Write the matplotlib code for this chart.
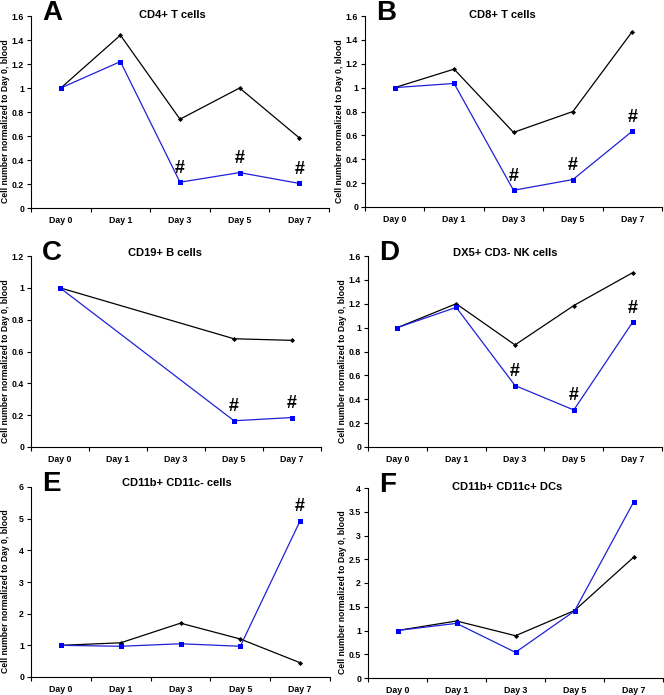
import numpy as np
import matplotlib.pyplot as plt

plt.rcParams['font.family'] = ['Liberation Sans', 'DejaVu Sans']
plt.rcParams['font.weight'] = 'bold'

days = ['Day 0', 'Day 1', 'Day 3', 'Day 5', 'Day 7']
nan = np.nan

titles = ['CD4+ T cells', 'CD8+ T cells', 'CD19+ B cells',
          'DX5+ CD3- NK cells', 'CD11b+ CD11c- cells', 'CD11b+ CD11c+ DCs']
letters = ['A', 'B', 'C', 'D', 'E', 'F']

black_a = [1.0, 1.44, 0.74, 1.0, 0.585]
blue_a = [1.0, 1.22, 0.215, 0.295, 0.205]
black_b = [1.0, 1.155, 0.625, 0.80, 1.47]
blue_b = [1.0, 1.035, 0.14, 0.23, 0.635]
black_c = [1.0, nan, nan, 0.68, 0.67]
blue_c = [1.0, nan, nan, 0.165, 0.185]
black_d = [1.0, 1.2, 0.855, 1.185, 1.46]
blue_d = [1.0, 1.17, 0.515, 0.31, 1.045]
black_e = [1.0, 1.08, 1.7, 1.2, 0.45]
blue_e = [1.0, 0.97, 1.05, 0.97, 4.93]
black_f = [1.0, 1.2, 0.89, 1.42, 2.54]
blue_f = [1.0, 1.15, 0.54, 1.41, 3.7]

blacks = [black_a, black_b, black_c, black_d, black_e, black_f]
blues = [blue_a, blue_b, blue_c, blue_d, blue_e, blue_f]

# indices of points marked with "#"
hash_marks = [[2, 3, 4], [2, 3, 4], [3, 4], [2, 3, 4], [4], []]

yticks = [np.arange(0, 1.61, 0.2), np.arange(0, 1.61, 0.2), np.arange(0, 1.21, 0.2),
          np.arange(0, 1.61, 0.2), np.arange(0, 6.1, 1), np.arange(0, 4.1, 0.5)]

W, H = 664, 695
# axes boxes in pixels: left, right, top, bottom
boxes = [(31, 329, 16, 208), (365, 662, 16, 207),
         (31, 321, 256, 447), (368, 662, 256, 447),
         (31, 330, 487, 677), (368, 663, 488, 678)]
# title centre (x, y) in pixels
title_pos = [(172, 15), (502, 15), (165, 253), (505, 253), (177, 483), (507, 487)]


def fmt(v):
    s = f'{v:.1f}'
    return s[:-2] if s.endswith('.0') else s


fig = plt.figure(figsize=(W / 100, H / 100), dpi=100)

for i in range(6):
    l, r, t, b = boxes[i]
    ax = fig.add_axes([l / W, 1 - b / H, (r - l) / W, (b - t) / H])
    x = np.arange(5) + 0.5
    bk = np.array(blacks[i])
    bl = np.array(blues[i])
    m = ~np.isnan(bk)
    ax.plot(x[m], bk[m], color='black', lw=0.9, marker='D', ms=2.6,
            markeredgewidth=0, zorder=3, clip_on=False)
    m = ~np.isnan(bl)
    ax.plot(x[m], bl[m], color='#2020d8', lw=0.9, marker='s', ms=3.6,
            markerfacecolor='#0000ff', markeredgewidth=0, zorder=4, clip_on=False)
    for j in hash_marks[i]:
        ax.annotate('#', (x[j], bl[j]), xytext=(0, 4), textcoords='offset points',
                    ha='center', va='bottom', fontsize=13, fontweight='bold')

    yt = yticks[i]
    ax.set_ylim(0, yt[-1])
    ax.set_yticks(yt)
    ax.set_yticklabels([fmt(v) for v in yt])
    ax.set_xlim(0, 5)
    ax.set_xticks(np.arange(6))
    ax.set_xticklabels([])
    ax.set_xticks(x, minor=True)
    ax.set_xticklabels(days, minor=True)
    ax.tick_params(axis='x', which='minor', length=0, pad=6, labelsize=6.3)
    ax.tick_params(axis='x', which='major', length=3, width=0.8)
    ax.tick_params(axis='y', length=3, width=0.8, labelsize=6.3, pad=2)
    for lab in ax.get_xticklabels(minor=True) + ax.get_yticklabels():
        lab.set_fontweight('bold')
    ax.spines['top'].set_visible(False)
    ax.spines['right'].set_visible(False)
    ax.spines['left'].set_linewidth(0.8)
    ax.spines['bottom'].set_linewidth(0.8)
    ax.set_ylabel('Cell number normalized to Day 0, blood', fontsize=6.2,
                  fontweight='bold')
    # place the label close to the left edge of each panel
    ax.yaxis.set_label_coords(-21 / (r - l), 0.45)

    tx, ty = title_pos[i]
    fig.text(tx / W, 1 - ty / H, titles[i], fontsize=8, fontweight='bold',
             ha='center', va='center')
    fig.text((l + 11) / W, 1 - (t - 3) / H, letters[i], fontsize=20,
             fontweight='bold', va='center', ha='left')

fig.savefig('out.png', dpi=100, facecolor='white')
